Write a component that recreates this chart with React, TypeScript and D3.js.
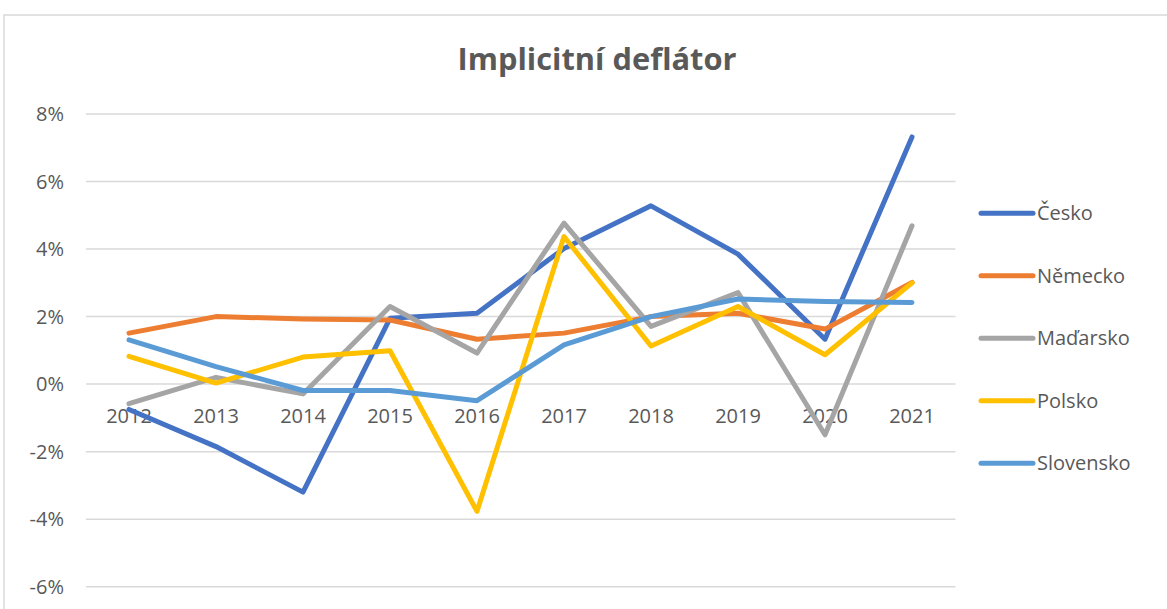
import React from "react";
import * as d3 from "d3";

const years = ["2012", "2013", "2014", "2015", "2016", "2017", "2018", "2019", "2020", "2021"];
const cesko = [-0.75, -1.85, -3.2, 1.95, 2.1, 4.02, 5.28, 3.85, 1.33, 7.32];
const nemecko = [1.51, 2.0, 1.93, 1.9, 1.33, 1.51, 2.0, 2.1, 1.63, 3.01];
const madarsko = [-0.58, 0.2, -0.29, 2.3, 0.92, 4.77, 1.71, 2.71, -1.5, 4.69];
const polsko = [0.82, 0.03, 0.8, 0.99, -3.77, 4.37, 1.13, 2.3, 0.87, 3.0];
const slovensko = [1.31, 0.52, -0.19, -0.19, -0.49, 1.16, 2.0, 2.52, 2.45, 2.42];
const yTicks = [-6, -4, -2, 0, 2, 4, 6, 8];

const seriesNames = ["Česko", "Německo", "Maďarsko", "Polsko", "Slovensko"];
const seriesValues = [cesko, nemecko, madarsko, polsko, slovensko];
const seriesColors = ["#4472C4", "#ED7D31", "#A5A5A5", "#FFC000", "#5B9BD5"];

const W = 1167;
const H = 609;
const FONT = "'Open Sans', 'Liberation Sans', sans-serif";
const TEXT = "#595959";

export default function App() {
  const x = d3.scalePoint<string>().domain(years).range([129, 912]);
  const y = d3.scaleLinear().domain([-6, 8]).range([586.7, 114]);
  const line = d3
    .line<number>()
    .x((_, i) => x(years[i]) as number)
    .y((d) => y(d));

  return (
    <svg
      width={W}
      height={H}
      style={{ position: "absolute", left: 0, top: 0, background: "#fff" }}
      fontFamily={FONT}
    >
      <rect x={4} y={15} width={W + 10} height={H + 10} fill="#fff" stroke="#D9D9D9" strokeWidth={1.5} />
      <text
        x={597}
        y={70}
        textAnchor="middle"
        fontSize={31}
        fontWeight="bold"
        fill={TEXT}
        textLength={279}
        lengthAdjust="spacingAndGlyphs"
      >
        Implicitní deflátor
      </text>
      {yTicks.map((t) => (
        <g key={t}>
          <line x1={86} x2={955.5} y1={y(t)} y2={y(t)} stroke="#D9D9D9" strokeWidth={1.5} />
          <text x={64} y={y(t) + 7} textAnchor="end" fontSize={20} fill={TEXT}>
            {`${t}%`}
          </text>
        </g>
      ))}
      {years.map((yr) => (
        <text key={yr} x={x(yr) as number} y={423} textAnchor="middle" fontSize={20} fill={TEXT}>
          {yr}
        </text>
      ))}
      {seriesValues.map((vals, i) => (
        <path
          key={seriesNames[i]}
          d={line(vals) || ""}
          fill="none"
          stroke={seriesColors[i]}
          strokeWidth={5}
          strokeLinejoin="round"
          strokeLinecap="round"
        />
      ))}
      {seriesNames.map((name, i) => {
        const ly = 213.3 + i * 62.5;
        return (
          <g key={name}>
            <line x1={981} x2={1033} y1={ly} y2={ly} stroke={seriesColors[i]} strokeWidth={5} strokeLinecap="round" />
            <text x={1037} y={ly + 7} fontSize={20} fill={TEXT}>
              {name}
            </text>
          </g>
        );
      })}
    </svg>
  );
}
